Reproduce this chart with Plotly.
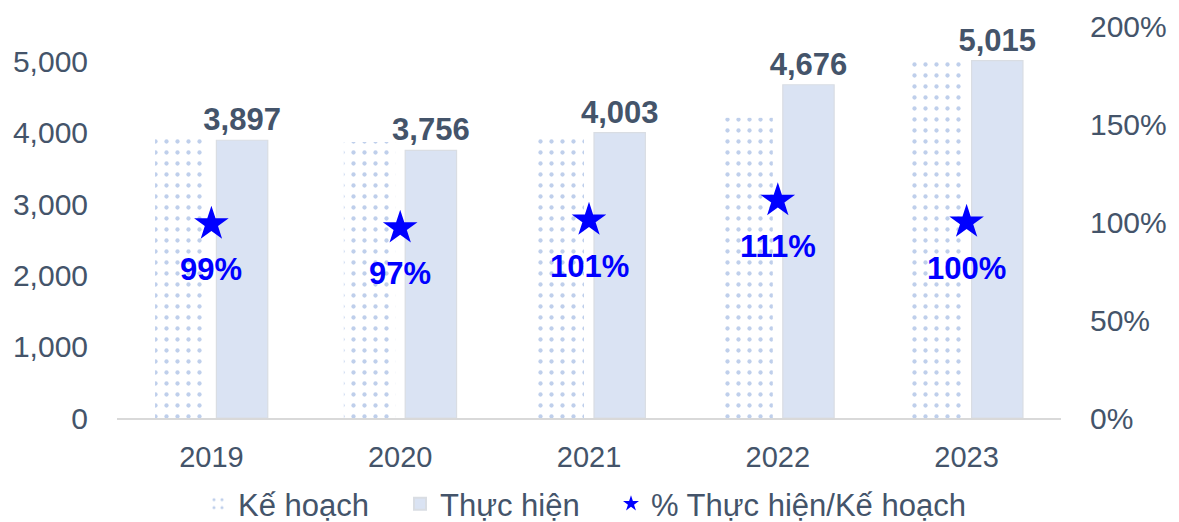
import plotly.graph_objects as go

years = ["2019", "2020", "2021", "2022", "2023"]
ke_hoach = [3936, 3872, 3963, 4213, 5015]
thuc_hien = [3897, 3756, 4003, 4676, 5015]
ty_le = [0.99, 0.97, 1.01, 1.11, 1.00]
ty_le_labels = ["99%", "97%", "101%", "111%", "100%"]

FONT = "Arial, Liberation Sans, sans-serif"
TXT = "#44546A"

fig = go.Figure()
fig.add_trace(go.Bar(
    name="Kế hoạch", x=years, y=ke_hoach, legend="legend",
    marker=dict(color="white",
                pattern=dict(shape=".", fgcolor="#7F9FD8", bgcolor="white", size=11, solidity=0.12),
                line=dict(width=0)),
))
fig.add_trace(go.Bar(
    name="Thực hiện", x=years, y=thuc_hien, legend="legend2",
    marker=dict(color="#DAE3F3", line=dict(color="#D9DDE3", width=1.2)),
    text=[f"{v:,}" for v in thuc_hien], textposition="outside", constraintext="none",
    textfont=dict(family=FONT, size=31, color=TXT, weight="bold"),
    cliponaxis=False,
))
fig.add_trace(go.Scatter(
    name="% Thực hiện/Kế hoạch", x=years, y=ty_le, yaxis="y2", mode="markers", legend="legend3",
    marker=dict(symbol="star", size=26, color="#0000FF", line=dict(width=0)),
))
for i, (y, t) in enumerate(zip(ty_le, ty_le_labels)):
    fig.add_annotation(x=i, xref="x", y=y, yref="y2", text=f"<b>{t}</b>", showarrow=False,
                       yshift=-46, font=dict(family=FONT, size=31, color="#0000FF"))

leg_common = dict(orientation="h", y=-0.2194, yanchor="middle", xanchor="left",
                  font=dict(size=31, color=TXT, family=FONT), itemsizing="constant",
                  bgcolor="rgba(0,0,0,0)")

fig.update_layout(
    width=1171, height=514,
    margin=dict(l=109, r=118, t=18, b=104, autoexpand=False),
    paper_bgcolor="white", plot_bgcolor="white",
    font=dict(family=FONT, size=29, color=TXT),
    barmode="group", bargap=0.35, bargroupgap=0.163,
    showlegend=True,
    legend=dict(x=0.0858, **leg_common),
    legend2=dict(x=0.2998, **leg_common),
    legend3=dict(x=0.5233, **leg_common),
    xaxis=dict(type="category", categoryorder="array", categoryarray=years,
               range=[-0.5, len(years) - 0.5], autorange=False, automargin=False,
               showline=True, linecolor="#D9D9D9", linewidth=2, showgrid=False,
               ticks="", ticklabelstandoff=12, tickfont=dict(size=29, color=TXT)),
    yaxis=dict(range=[0, 5500], tickvals=[0, 1000, 2000, 3000, 4000, 5000], automargin=False,
               tickformat=",", showgrid=False, zeroline=False, showline=False,
               ticklabelstandoff=28, tickfont=dict(size=30, color=TXT)),
    yaxis2=dict(range=[0, 2], overlaying="y", side="right", tickvals=[0, 0.5, 1, 1.5, 2],
                tickformat=".0%", showgrid=False, zeroline=False, showline=False, automargin=False,
                ticklabelstandoff=28, tickfont=dict(size=30, color=TXT)),
)
fig.write_html("out.html")
